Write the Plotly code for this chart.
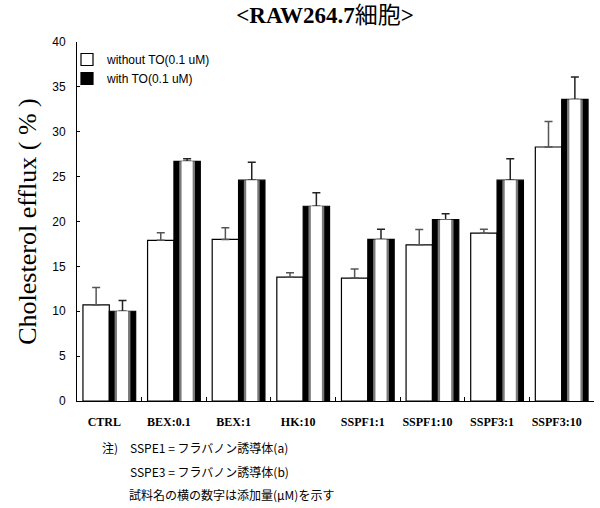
import plotly.graph_objects as go

categories = ["CTRL", "BEX:0.1", "BEX:1", "HK:10", "SSPF1:1", "SSPF1:10", "SSPF3:1", "SSPF3:10"]
without_mean = [10.7, 17.9, 18.0, 13.8, 13.7, 17.4, 18.7, 28.3]
without_err = [1.95, 0.85, 1.3, 0.5, 1.0, 1.7, 0.45, 2.85]
with_mean = [10.0, 26.7, 24.6, 21.7, 18.0, 20.2, 24.6, 33.6]
with_err = [1.2, 0.3, 2.0, 1.5, 1.15, 0.65, 2.4, 2.5]
y_ticks = [0, 5, 10, 15, 20, 25, 30, 35, 40]
title_text = "<b>&lt;RAW264.7</b>細胞<b>&gt;</b>"
y_title = "Cholesterol efflux ( % )"
legend_names = ["without TO(0.1 uM)", "with TO(0.1 uM)"]
notes = [
    ("注)", 100, 447),
    ("SSPE1 = フラバノン誘導体(a)", 128, 447),
    ("SSPE3 = フラバノン誘導体(b)", 128, 471),
    ("試料名の横の数字は添加量(μM)を示す", 127, 494),
]

W, H = 600, 508
L, R, T, B = 77, 6, 42, 107
PW = W - L - R
PH = H - T - B

def px_x(px):
    return (px - L) / PW

def px_y(py):
    return 1 - (py - T) / PH

bw = 0.408
fig = go.Figure()
fig.add_trace(go.Bar(
    x=categories, y=without_mean, name=legend_names[0],
    offset=-bw, width=bw,
    marker=dict(color="white", line=dict(color="black", width=1.2)),
    error_y=dict(type="data", array=without_err, arrayminus=[0]*len(without_err),
                 symmetric=False, color="#555555", thickness=1.5, width=4),
))
fig.add_trace(go.Bar(
    x=categories, y=with_mean, name=legend_names[1],
    offset=0, width=bw,
    marker=dict(color="black", line=dict(color="black", width=1.2)),
    error_y=dict(type="data", array=with_err, arrayminus=[0]*len(with_err),
                 symmetric=False, color="#222222", thickness=1.5, width=4),
))
gw = bw * 0.60
fig.add_trace(go.Bar(
    x=categories, y=with_mean, showlegend=False, hoverinfo="skip",
    offset=(bw - gw) / 2, width=gw,
    marker=dict(color="#7a7a7a", line=dict(width=0)),
))
ww = bw * 0.42
fig.add_trace(go.Bar(
    x=categories, y=with_mean, showlegend=False, hoverinfo="skip",
    offset=(bw - ww) / 2, width=ww,
    marker=dict(color="white", line=dict(width=0)),
))

for text, x, y in notes:
    fig.add_annotation(text=text, xref="paper", yref="paper",
                       x=px_x(x), y=px_y(y), xanchor="left", yanchor="middle",
                       showarrow=False,
                       font=dict(family="Noto Sans CJK JP", size=12, color="black"))

fig.update_layout(
    width=W, height=H,
    margin=dict(l=L, r=R, t=T, b=B, pad=0),
    barmode="overlay",
    plot_bgcolor="white", paper_bgcolor="white",
    title=dict(text=title_text, x=325 / W, y=1 - 15 / H, xanchor="center", yanchor="middle",
               font=dict(family="Liberation Serif, Noto Sans CJK JP", size=23, color="black")),
    legend=dict(x=px_x(67), y=px_y(45), xanchor="left", yanchor="top",
                bgcolor="rgba(0,0,0,0)", font=dict(family="Liberation Sans", size=12, color="black"),
                itemwidth=30, tracegroupgap=0),
    showlegend=True,
)
fig.update_xaxes(
    type="category", range=[-0.5, 7.5],
    showline=True, linecolor="black", linewidth=1,
    ticks="inside", ticklen=4, tickcolor="black", tickson="boundaries",
    showgrid=False, zeroline=False,
    tickfont=dict(family="Liberation Serif", size=12, color="black", weight="bold"),
    ticklabelstandoff=10, ticklabelshift=-5,
)
fig.update_yaxes(
    range=[0, 40], tickvals=y_ticks,
    showline=True, linecolor="black", linewidth=1,
    ticks="inside", ticklen=3, tickcolor="black",
    showgrid=False, zeroline=False,
    tickfont=dict(family="Liberation Sans", size=12, color="black"),
    ticklabelstandoff=8,
    title=dict(text=y_title, font=dict(family="Liberation Serif", size=26, color="black"), standoff=8),
)

fig.write_html("out.html", config={"displayModeBar": False})
with open("out.html", "r", encoding="utf-8") as f:
    html = f.read()
html = html.replace("<head>", "<head><style>html,body{margin:0;padding:0;overflow:hidden}</style>", 1)
with open("out.html", "w", encoding="utf-8") as f:
    f.write(html)
